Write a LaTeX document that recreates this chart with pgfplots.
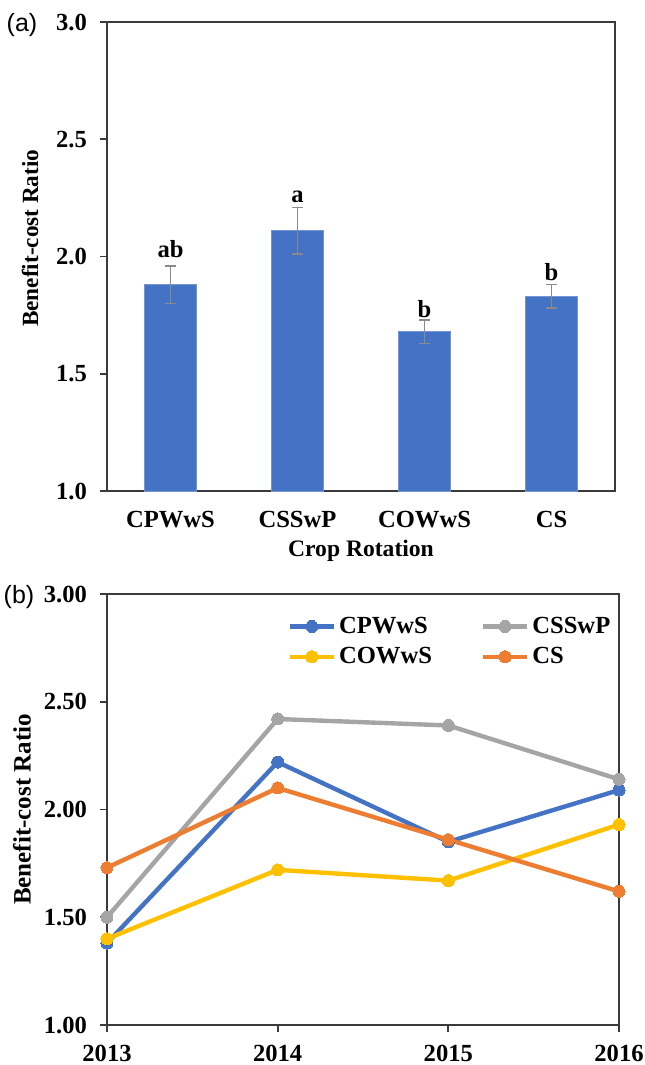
\documentclass[border=0pt]{standalone}
\usepackage{fontspec}
\setmainfont{Liberation Serif}
\newfontfamily\arialf{Liberation Sans}
\usepackage{pgfplots}
\pgfplotsset{compat=1.18}
\definecolor{cblue}{HTML}{4472C4}
\definecolor{cgray}{HTML}{A5A5A5}
\definecolor{cyellow}{HTML}{FFC000}
\definecolor{corange}{HTML}{ED7D31}
\definecolor{errgray}{HTML}{8A8A8A}
\definecolor{axgray}{HTML}{3A3A3A}
\newcommand\bfs{\bfseries\fontsize{12.3}{14}\selectfont}
\pgfplotstableread{
x y e
1 1.88 0.08
2 2.11 0.10
3 1.68 0.05
4 1.83 0.05
}\bars
\pgfplotstableread{
year cpwws cssswp cowws cs
2013 1.38 1.50 1.40 1.73
2014 2.22 2.42 1.72 2.10
2015 1.85 2.39 1.67 1.86
2016 2.09 2.14 1.93 1.62
}\lines
\begin{document}
\begin{tikzpicture}[x=1pt,y=1pt]
\useasboundingbox (0,0) rectangle (322,-532.5);
\pgfplotsset{
  common/.style={
    scale only axis, anchor=south west,
    ymin=1, ymax=3,
    axis line style={draw=axgray, line width=0.9pt},
    tick style={draw=axgray, line width=0.9pt},
    major tick length=3.5pt, tick align=outside,
    ytick pos=left,
    ticklabel style={font=\bfs, /pgf/number format/assume math mode=true},
    label style={font=\bfs},
  }
}
\begin{axis}[common,
  at={(53.5pt,-245.5pt)}, width=254pt, height=234.5pt,
  xmin=0.5, xmax=4.5,
  xtick={1,2,3,4}, xticklabels={CPWwS,CSSwP,COWwS,CS},
  xtick style={draw=none},
  xticklabel style={yshift=-3pt},
  ytick={1,1.5,2,2.5,3},
  yticklabel style={xshift=-3pt, /pgf/number format/.cd, fixed, fixed zerofill, precision=1},
  ylabel={Benefit-cost Ratio},
  ylabel style={at={(axis description cs:-0.1516,0.539)}, anchor=center, font=\bfseries\fontsize{11.6}{14}\selectfont},
  xlabel={Crop Rotation},
  xlabel style={at={(axis description cs:0.5,-0.1275)}, anchor=center, font=\bfseries\fontsize{11.8}{14}\selectfont},
]
\addplot[ybar, bar width=26pt, fill=cblue, draw=cblue!75!white, line width=0.4pt,
  error bars/.cd, y dir=both, y explicit,
  error bar style={color=errgray, line width=0.7pt},
  error mark options={rotate=90, mark size=2.6pt, color=errgray, line width=0.7pt}]
  table[x=x, y=y, y error=e] {\bars};
\addplot[only marks, mark=none, nodes near coords, point meta=explicit symbolic,
  nodes near coords style={anchor=south, inner sep=0pt, font=\bfs, text=black}]
  coordinates {(1,1.994)[ab] (2,2.228)[a] (3,1.738)[b] (4,1.896)[b]};
\end{axis}
\begin{axis}[common,
  at={(53.5pt,-512.5pt)}, width=256pt, height=215.5pt,
  xmin=2013, xmax=2016, clip=false,
  xtick={2013,2014,2015,2016}, xtick pos=bottom,
  xticklabel style={yshift=-3pt, /pgf/number format/.cd, 1000 sep={}},
  ytick={1,1.5,2,2.5,3},
  yticklabel style={xshift=-3pt, /pgf/number format/.cd, fixed, fixed zerofill, precision=2},
  ylabel={Benefit-cost Ratio},
  ylabel style={at={(axis description cs:-0.166,0.5)}, anchor=center, font=\bfseries\fontsize{12.5}{14}\selectfont},
  legend columns=2, legend cell align=left,
  legend style={draw=none, fill=none, at={(0.352,0.955)}, anchor=north west,
    font=\bfs, inner sep=0pt, row sep=2.5pt,
    /tikz/every even column/.append style={column sep=23pt},
    nodes={inner sep=1.5pt}},
  legend image code/.code={\draw[mark repeat=2, mark phase=2, #1] plot coordinates {(0pt,0pt) (11pt,0pt) (22pt,0pt)};},
  every axis plot/.append style={line width=2.2pt, mark=*, mark size=3pt},
]
\addplot[color=cblue, mark options={fill=cblue, draw=cblue, line width=0pt}] table[x=year, y=cpwws] {\lines};
\addlegendentry{CPWwS}
\addplot[color=cgray, mark options={fill=cgray, draw=cgray, line width=0pt}] table[x=year, y=cssswp] {\lines};
\addlegendentry{CSSwP}
\addplot[color=cyellow, mark options={fill=cyellow, draw=cyellow, line width=0pt}] table[x=year, y=cowws] {\lines};
\addlegendentry{COWwS}
\addplot[color=corange, mark options={fill=corange, draw=corange, line width=0pt}] table[x=year, y=cs] {\lines};
\addlegendentry{CS}
\end{axis}
\node[font=\arialf\fontsize{12.5}{14}\selectfont] at (11pt,-12.5pt) {(a)};
\node[font=\arialf\fontsize{12.5}{14}\selectfont] at (9.5pt,-298.5pt) {(b)};
\end{tikzpicture}
\end{document}
